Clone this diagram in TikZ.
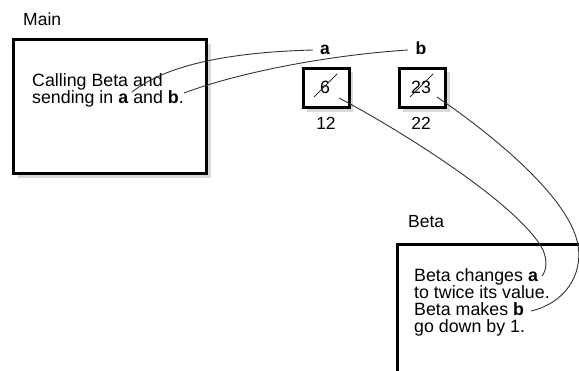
\documentclass[tikz,border=0pt]{standalone}
\usepackage{fontspec}
\setmainfont{Liberation Sans}
\begin{document}
\begin{tikzpicture}[x=1pt,y=-1pt,
  frame/.style={draw=black,line width=2.7pt,fill=white,inner sep=0pt},
  shade/.style={fill=black!15,draw=none},
  link/.style={draw=black!80,line width=0.9pt},
  txt/.style={font=\fontsize{17.8}{17.5}\selectfont,inner sep=0pt},
  btxt/.style={font=\fontsize{17.8}{17}\selectfont,inner sep=0pt},
  lbl/.style={font=\fontsize{17.5}{17.5}\selectfont,inner sep=0pt}]
\useasboundingbox (0,0) rectangle (579,371);
\clip (0,0) rectangle (579,371);
% Main
\node[lbl,anchor=base west] (mainlbl) at (23,26) {Main};
\fill[shade] (18,44) rectangle (211,178);
\node[frame,minimum width=193pt,minimum height=134pt,anchor=north west] (main) at (12,38) {};
\node[txt,anchor=north west,align=left] (maintxt) at (32,73) {Calling Beta and\\sending in \textbf{a} and \textbf{b}.};
% boxes
\fill[shade] (307,72) rectangle (353,112);
\node[frame,minimum width=46pt,minimum height=39pt,anchor=north west] (ba) at (302,67) {};
\node[txt] (six) at (325,87) {6};
\fill[shade] (403,72) rectangle (450,112);
\node[frame,minimum width=46pt,minimum height=39pt,anchor=north west] (bb) at (398,67) {};
\node[txt] (tt) at (421,87) {23};
\node[lbl,anchor=base] (twelve) at (326,130) {12};
\node[lbl,anchor=base] (tt2) at (421,130) {22};
\node[lbl,anchor=base,font=\fontsize{17.5}{17.5}\selectfont\bfseries] (la) at (325,55) {a};
\node[lbl,anchor=base,font=\fontsize{17.5}{17.5}\selectfont\bfseries] (lb) at (421,55) {b};
\coordinate (sa1) at (314,97); \coordinate (sa2) at (337,74);
\coordinate (sb1) at (410,97); \coordinate (sb2) at (433,74);
\draw[link] (sa1) -- (sa2);
\draw[link] (sb1) -- (sb2);
% Beta
\node[lbl,anchor=base west] (betalbl) at (408,228) {Beta};
\node[frame,minimum width=300pt,minimum height=200pt,anchor=north west] (beta) at (396,243) {};
\node[btxt,anchor=north west,align=left] (betatxt) at (414,268) {Beta changes \textbf{a}\\to twice its value.\\Beta makes \textbf{b}\\go down by 1.};
% connectors
\coordinate (ca) at (132,92);
\coordinate (cb) at (184,93);
\coordinate (ea) at (313,50);
\coordinate (eb) at (408,50);
\coordinate (fa) at (339,98);
\coordinate (fb) at (437,97);
\coordinate (ga) at (542,276);
\coordinate (gb) at (531,311);
\draw[link] (ca) .. controls (170,62) and (240,52) .. (ea);
\draw[link] (cb) .. controls (240,72) and (330,55) .. (eb);
\draw[link] (fa) .. controls (400,130) and (520,205) .. (543,250) .. controls (548,262) and (546,271) .. (ga);
\draw[link] (fb) .. controls (500,140) and (570,200) .. (578,245) .. controls (583,275) and (565,303) .. (gb);
\end{tikzpicture}
\end{document}
